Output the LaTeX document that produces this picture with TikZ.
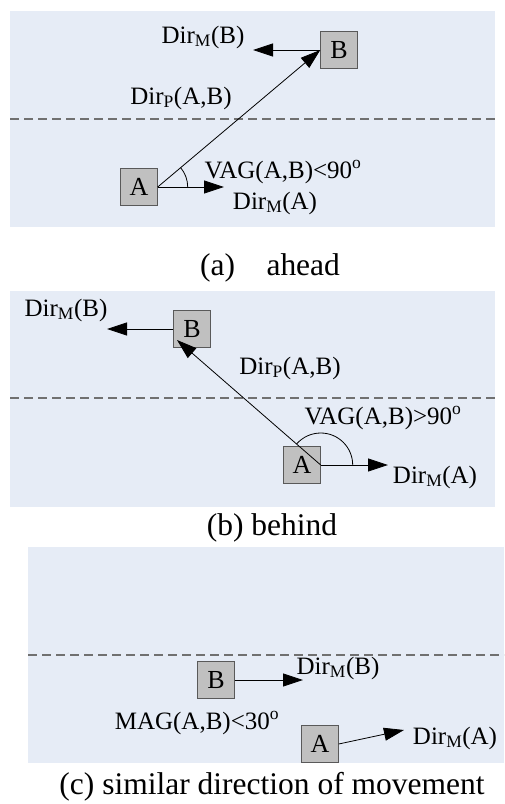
\documentclass[tikz,border=0pt]{standalone}
\usepackage{fontspec}
\setmainfont{Liberation Serif}
\usetikzlibrary{arrows.meta,positioning}
\definecolor{lanebg}{RGB}{230,236,246}
\definecolor{carfill}{RGB}{192,192,192}
\newcommand{\DirM}[1]{Dir\textsubscript{M}(#1)}
\newcommand{\DirP}{Dir\textsubscript{P}(A,B)}

\begin{document}
\begin{tikzpicture}[x=1pt,y=-1pt,
  panel/.style={fill=lanebg},
  lane/.style={draw={rgb,255:red,112;green,112;blue,112},line width=1.2pt,dash pattern=on 9pt off 5pt},
  car/.style={draw=black!65,fill=carfill,minimum size=37pt,inner sep=0pt,font=\fontsize{26}{28}\selectfont},
  lbl/.style={inner sep=0pt,font=\fontsize{25}{28}\selectfont},
  subcap/.style={inner sep=0pt,font=\fontsize{31.5}{34}\selectfont},
  move/.style={line width=0.8pt,-{Triangle[length=20pt,width=13pt]}},
  angle/.style={line width=0.8pt}]
  \useasboundingbox (0,0) rectangle (504,804);
  \foreach \l/\r/\t/\m in {10/495/11/119,10/495/291/398,28/504/547/655}{
    \fill[panel] (\l,\t) rectangle (\r,\t+216);
    \draw[lane] (\l,\m) -- (\r,\m);}

  % (a) ahead
  \node[car] (A1) at (139,187) {A};
  \node[car] (B1) at (339,50) {B};
  \coordinate (mA1) at (224,187);
  \coordinate (mB1) at (253,50);
  \draw[move] (A1.east) -- (mA1);
  \draw[move] (B1.west) -- (mB1);
  \draw[move] (A1.east) -- (B1.west);
  \draw[angle] ([xshift=30pt]A1.east) arc[start angle=0,end angle=40,radius=30pt];
  \node[lbl] (dB1) at (203,37) {\DirM{B}};
  \node[lbl] (dP1) at (181,98) {\DirP};
  \node[lbl] (vag1) at (283,172) {VAG(A,B)<90\textsuperscript{o}};
  \node[lbl] (dA1) at (275,203) {\DirM{A}};
  \node[subcap] (capA) at (270,268) {(a)\quad ahead};

  % (b) behind
  \node[car] (A2) at (302,465) {A};
  \node[car] (B2) at (192,329) {B};
  \coordinate (mA2) at (388,465);
  \coordinate (mB2) at (107,329);
  \coordinate (tB2) at (177,340);
  \draw[move] (A2.east) -- (mA2);
  \draw[move] (B2.west) -- (mB2);
  \draw[move] (A2.east) -- (tB2);
  \draw[angle] ([xshift=32pt]A2.east) arc[start angle=0,end angle=139,radius=32pt];
  \node[lbl] (dB2) at (66,310) {\DirM{B}};
  \node[lbl] (dP2) at (290,368) {\DirP};
  \node[lbl] (vag2) at (383,418) {VAG(A,B)>90\textsuperscript{o}};
  \node[lbl] (dA2) at (435,477) {\DirM{A}};
  \node[subcap] (capB) at (272,528) {(b) behind};

  % (c) similar direction of movement
  \node[car] (A3) at (320,744) {A};
  \node[car] (B3) at (216,680) {B};
  \coordinate (mA3) at (404,730);
  \coordinate (mB3) at (303,680);
  \draw[move] (A3.east) -- (mA3);
  \draw[move] (B3.east) -- (mB3);
  \node[lbl] (dB3) at (338,668) {\DirM{B}};
  \node[lbl] (mag3) at (197,723) {MAG(A,B)<30\textsuperscript{o}};
  \node[lbl] (dA3) at (455,738) {\DirM{A}};
  \node[subcap] (capC) at (272,787) {(c) similar direction of movement};
\end{tikzpicture}
\end{document}
